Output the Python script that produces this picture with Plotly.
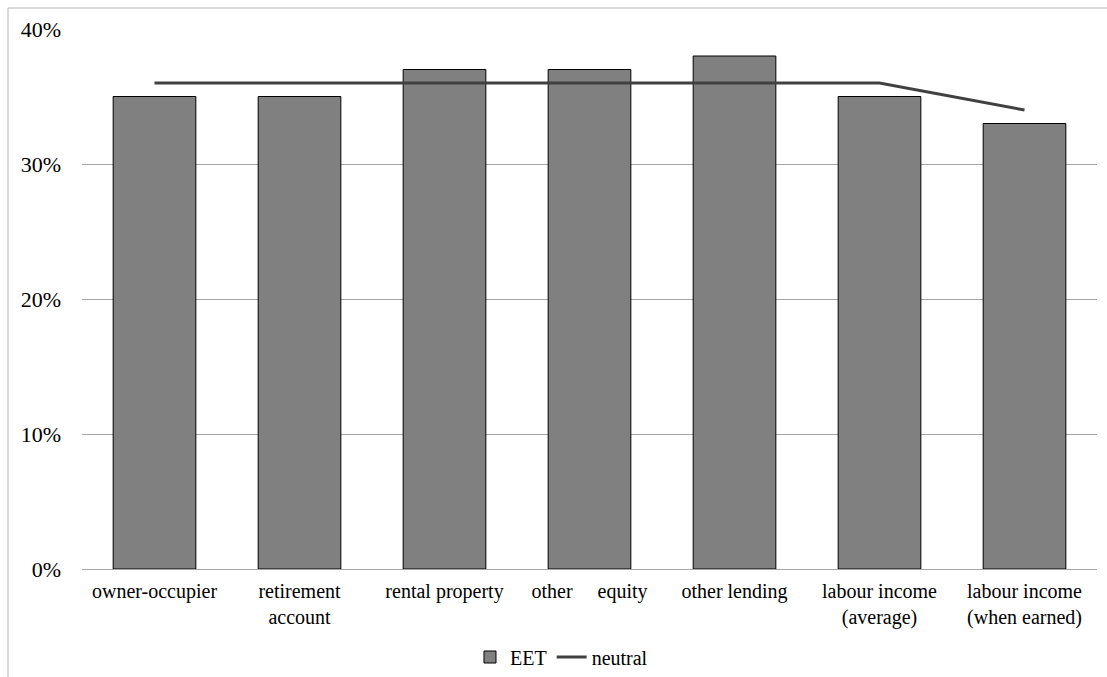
import plotly.graph_objects as go

categories = ["owner-occupier", "retirement<br>account", "rental property",
              "other\u00a0\u00a0\u00a0\u00a0\u00a0equity", "other lending",
              "labour income<br>(average)", "labour income<br>(when earned)"]
eet = [35, 35, 37, 37, 38, 35, 33]
neutral = [36, 36, 36, 36, 36, 36, 34]
y_ticks = [0, 10, 20, 30, 40]
y_tick_labels = ["0%", "10%", "20%", "30%", "40%"]

FONT = "Liberation Serif"

fig = go.Figure()
fig.add_trace(go.Bar(x=categories, y=eet, name="EET",
                     marker=dict(color="#808080", line=dict(color="#000000", width=1))))
fig.add_trace(go.Scatter(x=categories, y=neutral, name="neutral", mode="lines",
                         line=dict(color="#404040", width=3)))

fig.update_layout(
    width=1107, height=677,
    margin=dict(l=82, r=10, t=29, b=108),
    paper_bgcolor="white", plot_bgcolor="white",
    font=dict(family=FONT, size=20, color="#000000"),
    bargap=0.43,
    showlegend=True,
    legend=dict(orientation="h", x=0.4724, xanchor="center",
                yref="container", y=20 / 677, yanchor="middle",
                font=dict(family=FONT, size=20), itemwidth=30, tracegroupgap=0),
    xaxis=dict(showgrid=False, showline=True, linecolor="#a6a6a6", linewidth=1,
               ticks="outside", ticklen=4, tickcolor="rgba(0,0,0,0)", automargin=False,
               tickfont=dict(family=FONT, size=20)),
    yaxis=dict(range=[0, 40], tickvals=y_ticks, ticktext=y_tick_labels,
               showgrid=True, gridcolor="#a6a6a6", gridwidth=1, automargin=False,
               zeroline=False, showline=False, ticks="",
               ticklabelstandoff=20, tickfont=dict(family=FONT, size=22)),
    shapes=[dict(type="rect", xref="paper", yref="paper",
                 x0=(8 - 82) / 1015, x1=1.2, y0=-0.5, y1=1 + 21 / 540,
                 line=dict(color="#b3b3b3", width=1), fillcolor="rgba(0,0,0,0)",
                 layer="below")],
)

fig.write_html("out.html")
